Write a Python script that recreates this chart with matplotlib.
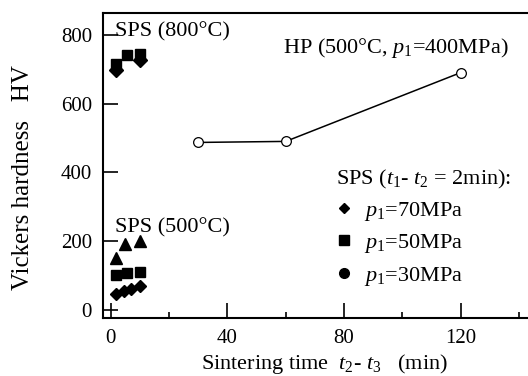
import matplotlib
matplotlib.use('Agg')
import matplotlib.pyplot as plt
from matplotlib.lines import Line2D

plt.rcParams['font.family'] = 'Liberation Serif'
plt.rcParams['mathtext.fontset'] = 'custom'
plt.rcParams['mathtext.rm'] = 'Liberation Serif'
plt.rcParams['mathtext.it'] = 'Liberation Serif:italic'

# HP (500C, p1=400MPa)
hp_time = [30, 60, 120]
hp_hv = [487, 490, 690]

# SPS 800C
sps800_sq_time = [2, 5.5, 10]
sps800_sq_hv = [714, 740, 745]
sps800_di_time = [2, 10]
sps800_di_hv = [697, 727]

# SPS 500C
sps500_tri_time = [2, 5, 10]
sps500_tri_hv = [150, 192, 200]
sps500_sq_time = [2, 5.5, 10]
sps500_sq_hv = [102, 108, 110]
sps500_di_time = [2, 4.5, 7, 10]
sps500_di_hv = [47, 55, 62, 71]

legend_labels = ['$p_1$=70MPa', '$p_1$=50MPa', '$p_1$=30MPa']

fig = plt.figure(figsize=(5.28, 3.76), dpi=100)
ax = fig.add_axes([103 / 528, 58 / 376, 425 / 528, 305 / 376])

ax.plot(hp_time, hp_hv, color='k', lw=1.1, marker='o', ms=7,
        mfc='white', mec='k', mew=0.9)

ax.plot(sps800_di_time, sps800_di_hv, ls='none', marker='D', ms=7, color='k')
ax.plot(sps800_sq_time, sps800_sq_hv, ls='none', marker='s', ms=7.5, color='k')
ax.plot(sps500_tri_time, sps500_tri_hv, ls='none', marker='^', ms=8, color='k')
ax.plot(sps500_sq_time, sps500_sq_hv, ls='none', marker='s', ms=7.5, color='k')
ax.plot(sps500_di_time, sps500_di_hv, ls='none', marker='D', ms=6.5, color='k')

ax.set_xlim(-2.6, 143)
ax.set_ylim(-23, 863)
ax.set_xticks([0, 40, 80, 120])
ax.set_xticks([20, 60, 100, 140], minor=True)
ax.set_yticks([0, 200, 400, 600, 800])
ax.tick_params(axis='both', which='major', direction='in', length=11, width=1.2,
               labelsize=15, pad=8)
ax.tick_params(axis='x', which='minor', direction='in', length=4.5, width=1.2)
ax.spines['right'].set_visible(False)
for s in ['left', 'bottom', 'top']:
    ax.spines[s].set_linewidth(1.5)

ax.set_xlabel('Sintering time  $t_2$- $t_3$   (min)', fontsize=16)
ax.set_ylabel('Vickers hardness   HV', fontsize=18)
ax.xaxis.set_label_coords(0.522, -0.11)
ax.yaxis.set_label_coords(-0.162, 0.46)

ax.text(1.5, 796, 'SPS (800°C)', fontsize=16, va='baseline')
ax.text(1.5, 225, 'SPS (500°C)', fontsize=16, va='baseline')
ax.text(59, 747, 'HP (500°C, $p_1$=400MPa)', fontsize=16, va='baseline')

handles = [Line2D([], [], ls='none', marker='D', ms=5, color='k'),
           Line2D([], [], ls='none', marker='s', ms=7, color='k'),
           Line2D([], [], ls='none', marker='o', ms=7, color='k')]
leg = ax.legend(handles, legend_labels, title='SPS ($t_1$- $t_2$ = 2min):',
                loc='upper left', bbox_to_anchor=(320 / 528, 1 - 152 / 376),
                bbox_transform=fig.transFigure, frameon=False, fontsize=16,
                title_fontsize=16, alignment='left', handlelength=0.8,
                handletextpad=0.5, labelspacing=0.42, borderpad=0.2)

fig.savefig('out.png', dpi=100)
